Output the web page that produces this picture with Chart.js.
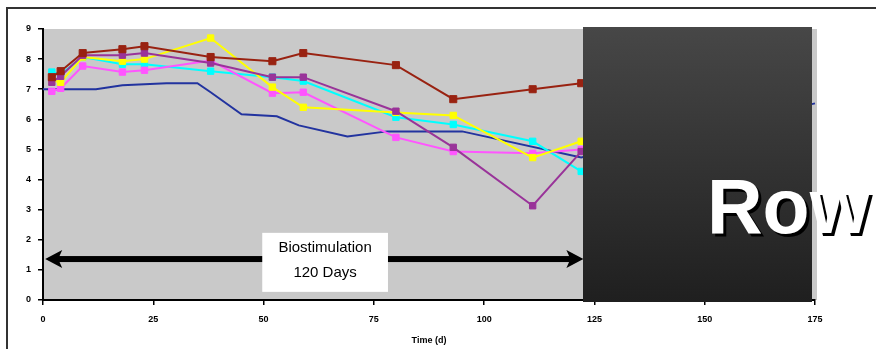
<!DOCTYPE html>
<html lang="en">
<head>
<meta charset="UTF-8" />
<title>Biostimulation time course</title>
<script src="https://cdn.jsdelivr.net/npm/chart.js"></script>
<style>
  body { margin: 0; background: #fff; overflow: hidden; }
  .wrap { position: relative; width: 876px; height: 349px; overflow: hidden; }
  .frame { position: absolute; left: 6px; top: 7px; width: 1000px; height: 500px; border: 2px solid #333; }
  #chart { position: absolute; left: 0; top: 0; }
  .shade {
    position: absolute; left: 583px; top: 27px; width: 229px; height: 275px;
    background: linear-gradient(#474747, #1f1f1f);
  }
  .word {
    position: absolute; left: 707px; top: 162px; line-height: 1;
    font: bold 77px "Liberation Sans", Arial, sans-serif;
    color: #fff; text-shadow: 3px 3px 0 #000; white-space: nowrap;
  }
</style>
</head>
<body>
<div class="wrap">
  <div class="frame"></div>
  <canvas id="chart" width="876" height="349"></canvas>
  <div class="shade"></div>
  <div class="word">Row</div>
</div>

<script>
// sampling days (d) for the marked series
const days = [2, 4, 9, 18, 23, 38, 52, 59, 80, 93, 111, 122];
const red     = [7.4, 7.6, 8.2, 8.33, 8.43, 8.07, 7.93, 8.2, 7.8, 6.67, 7.0, 7.2];
const purple  = [7.23, 7.43, 8.13, 8.13, 8.2, 7.87, 7.4, 7.4, 6.27, 5.07, 3.13, 4.93];
const yellow  = [7.3, 7.23, 8.07, 7.93, 8.0, 8.7, 7.07, 6.4, 6.23, 6.13, 4.73, 5.27];
const magenta = [6.93, 7.03, 7.77, 7.57, 7.63, 7.95, 6.87, 6.9, 5.4, 4.93, 4.87, 5.0];
const cyan    = [7.57, 7.5, 8.07, 7.83, 7.83, 7.6, 7.4, 7.27, 6.07, 5.83, 5.27, 4.27];

// unmarked blue trace
const blueDays = [0, 12, 18, 28, 35, 38, 45, 53, 58, 69, 78, 95, 122, 175];
const blue     = [7.0, 7.0, 7.13, 7.2, 7.2, 6.9, 6.17, 6.1, 5.8, 5.43, 5.6, 5.6, 4.73, 6.53];

const xTicks = [0, 25, 50, 75, 100, 125, 150, 175];
const yTicks = [0, 1, 2, 3, 4, 5, 6, 7, 8, 9];

// arrow annotation (in data units)
const arrowFrom = 0.5, arrowTo = 122.5, arrowLevel = 1.36;
const labelLines = ['Biostimulation', '120 Days'];
const labelBox = { x0: 49.7, x1: 78.2, y0: 2.23, y1: 0.27 };

function pts(xs, ys) { return xs.map((x, i) => ({ x: x, y: ys[i] })); }

function series(values, color, r) {
  return {
    data: pts(days, values),
    borderColor: color,
    backgroundColor: color,
    borderWidth: 2,
    pointStyle: 'rect',
    pointRadius: r,
    pointBorderWidth: 1,
    tension: 0,
    fill: false
  };
}

const plotBg = {
  id: 'plotBg',
  beforeDraw(chart) {
    const { ctx, chartArea: a } = chart;
    ctx.save();
    ctx.fillStyle = '#c9c9c9';
    ctx.fillRect(a.left, a.top, a.right - a.left + 2, a.bottom - a.top);
    ctx.restore();
  }
};

const arrowNote = {
  id: 'arrowNote',
  afterDatasetsDraw(chart) {
    const { ctx, scales: { x, y } } = chart;
    const x0 = x.getPixelForValue(arrowFrom), x1 = x.getPixelForValue(arrowTo);
    const yy = y.getPixelForValue(arrowLevel);
    ctx.save();
    ctx.fillStyle = '#000';
    ctx.fillRect(x0 + 10, yy - 3, x1 - x0 - 20, 6);
    // heads
    ctx.beginPath();
    ctx.moveTo(x0, yy); ctx.lineTo(x0 + 17, yy - 9); ctx.lineTo(x0 + 13, yy); ctx.lineTo(x0 + 17, yy + 9);
    ctx.closePath(); ctx.fill();
    ctx.beginPath();
    ctx.moveTo(x1, yy); ctx.lineTo(x1 - 17, yy - 9); ctx.lineTo(x1 - 13, yy); ctx.lineTo(x1 - 17, yy + 9);
    ctx.closePath(); ctx.fill();
    // label box
    const bx0 = x.getPixelForValue(labelBox.x0), bx1 = x.getPixelForValue(labelBox.x1);
    const by0 = y.getPixelForValue(labelBox.y0), by1 = y.getPixelForValue(labelBox.y1);
    ctx.fillStyle = '#fff';
    ctx.fillRect(bx0, by0, bx1 - bx0, by1 - by0);
    ctx.fillStyle = '#000';
    ctx.font = '15px "Liberation Sans", Arial, sans-serif';
    ctx.textAlign = 'center';
    ctx.textBaseline = 'middle';
    const cx = (bx0 + bx1) / 2;
    ctx.fillText(labelLines[0], cx, by0 + 15);
    ctx.fillText(labelLines[1], cx, by0 + 40);
    ctx.restore();
  }
};

const tickFont = { family: '"Liberation Sans", Arial, sans-serif', size: 9, weight: 'bold' };

new Chart(document.getElementById('chart'), {
  type: 'line',
  data: {
    datasets: [
      series(red, '#992211', 5),
      series(purple, '#993399', 4.5),
      series(yellow, '#ffff00', 4.5),
      series(magenta, '#ff55ff', 4.5),
      series(cyan, '#00ffff', 4.5),
      {
        data: pts(blueDays, blue),
        borderColor: '#22339f',
        borderWidth: 2,
        pointRadius: 0,
        tension: 0,
        fill: false,
        clip: 4
      }
    ]
  },
  options: {
    responsive: false,
    animation: false,
    layout: { padding: { top: 29, right: 61, left: 0, bottom: 0 } },
    plugins: { legend: { display: false }, tooltip: { enabled: false } },
    scales: {
      x: {
        type: 'linear',
        min: 0, max: 175,
        afterBuildTicks(s) { s.ticks = xTicks.map(v => ({ value: v })); },
        afterFit(s) { s.height = 49; },
        ticks: { color: '#000', font: tickFont, padding: 9, maxRotation: 0 },
        grid: { drawOnChartArea: false, color: '#000', lineWidth: 1.5, tickLength: 5 },
        border: { display: true, color: '#000', width: 2 },
        title: {
          display: true, text: 'Time (d)', color: '#000',
          font: { family: '"Liberation Sans", Arial, sans-serif', size: 9, weight: 'bold' },
          padding: { top: 0, bottom: 3 }
        }
      },
      y: {
        type: 'linear',
        min: 0, max: 9,
        afterBuildTicks(s) { s.ticks = yTicks.map(v => ({ value: v })); },
        afterFit(s) { s.width = 43; },
        ticks: { color: '#000', font: tickFont, padding: 7 },
        grid: { drawOnChartArea: false, color: '#000', lineWidth: 1.5, tickLength: 5 },
        border: { display: true, color: '#000', width: 2 }
      }
    }
  },
  plugins: [plotBg, arrowNote]
});
</script>
</body>
</html>
